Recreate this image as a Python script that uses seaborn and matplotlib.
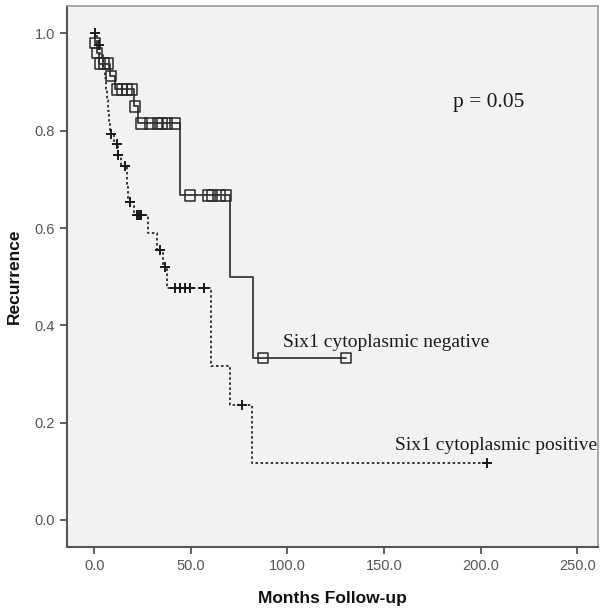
import matplotlib
matplotlib.use("Agg")
import matplotlib.pyplot as plt
import seaborn as sns
import pandas as pd

# ---- data ----
# Six1 cytoplasmic negative (solid, square censor marks)
neg_step_t = [0, 0.2, 1.2, 2.2, 8.0, 10.5, 20.5, 22.6, 44.2, 70.3, 82.0, 130.3]
neg_step_s = [1.0, 0.980, 0.960, 0.938, 0.912, 0.885, 0.850, 0.815, 0.667, 0.500, 0.333, 0.333]
neg_cens_t = [0.3, 1.5, 2.8, 5.0, 7.0, 8.6, 11.6, 14.2, 16.8, 19.4, 21.0,
              24.5, 28.8, 33.1, 34.9, 37.5, 41.8, 49.6, 59.0, 61.0, 65.0, 68.0, 87.2, 130.3]
neg_cens_s = [0.980, 0.960, 0.938, 0.938, 0.938, 0.912, 0.885, 0.885, 0.885, 0.885, 0.850,
              0.815, 0.815, 0.815, 0.815, 0.815, 0.815, 0.667, 0.667, 0.667, 0.667, 0.667, 0.333, 0.333]

# Six1 cytoplasmic positive (dashed, plus censor marks)
pos_step_t = [0, 1.5, 3.0, 4.5, 5.5, 6.2, 6.8, 7.2, 7.6, 8.0, 10.0, 12.0, 14.0, 16.8, 17.5,
              20.5, 28.0, 32.3, 35.7, 37.8, 60.5, 70.0, 81.5, 203.2]
pos_step_s = [1.0, 0.977, 0.955, 0.932, 0.909, 0.886, 0.863, 0.840, 0.817, 0.794, 0.772, 0.751,
              0.727, 0.690, 0.654, 0.626, 0.590, 0.554, 0.519, 0.476, 0.316, 0.237, 0.118, 0.118]
pos_cens_t = [0.6, 2.3, 8.4, 11.6, 12.4, 15.9, 18.3, 22.3, 23.2, 24.0, 34.0, 36.6,
              41.8, 44.4, 47.0, 49.6, 56.8, 76.3, 203.2]
pos_cens_s = [1.0, 0.977, 0.794, 0.772, 0.751, 0.727, 0.654, 0.626, 0.626, 0.626, 0.554, 0.519,
              0.476, 0.476, 0.476, 0.476, 0.476, 0.237, 0.118]

x_ticks = [0, 50, 100, 150, 200, 250]
y_ticks = [0.0, 0.2, 0.4, 0.6, 0.8, 1.0]
label_neg = "Six1 cytoplasmic negative"
label_pos = "Six1 cytoplasmic positive"
p_text = "p = 0.05"

# ---- figure ----
sns.set_style("white")
fig = plt.figure(figsize=(6.02, 6.11), dpi=100)
ax = fig.add_axes([0.1121, 0.1052, 0.8813, 0.8855])
ax.set_facecolor("#f2f2f2")

neg_df = pd.DataFrame({"t": neg_step_t, "s": neg_step_s})
pos_df = pd.DataFrame({"t": pos_step_t, "s": pos_step_s})

sns.lineplot(data=neg_df, x="t", y="s", ax=ax, estimator=None, sort=False,
             drawstyle="steps-post", color="#3a3a3a", lw=1.3)
sns.lineplot(data=pos_df, x="t", y="s", ax=ax, estimator=None, sort=False,
             drawstyle="steps-post", color="#2a2a2a", lw=1.3, linestyle=(0, (1.4, 1.4)))

sns.scatterplot(x=neg_cens_t, y=neg_cens_s, ax=ax, marker="s", s=55,
                facecolors="none", edgecolor="#2a2a2a", linewidth=1.1, zorder=3)
ax.plot(pos_cens_t, pos_cens_s, linestyle="none", marker="+", markersize=7,
        mew=1.4, color="#1a1a1a", zorder=3)

ax.text(97.7, 0.365, label_neg, family="Liberation Serif", fontsize=14,
        va="center", ha="left", color="#1a1a1a")
ax.text(155.7, 0.154, label_pos, family="Liberation Serif", fontsize=14,
        va="center", ha="left", color="#1a1a1a")
ax.text(185.5, 0.859, p_text, family="Liberation Serif", fontsize=15.5,
        va="center", ha="left", color="#1a1a1a")

ax.set_xlim(-13.9, 260.8)
ax.set_ylim(-0.055, 1.057)
ax.set_xticks(x_ticks)
ax.set_xticklabels([f"{v:.1f}" for v in x_ticks])
ax.set_yticks(y_ticks)
ax.set_yticklabels([f"{v:.1f}" for v in y_ticks])
ax.tick_params(axis="both", direction="out", length=5, width=1.2, color="#444444",
               labelsize=10.5, labelcolor="#555555", bottom=True, left=True, pad=4)
for lab in ax.get_xticklabels() + ax.get_yticklabels():
    lab.set_family("Liberation Sans")

for side in ["left", "bottom"]:
    ax.spines[side].set_color("#555555")
    ax.spines[side].set_linewidth(1.5)
for side in ["top", "right"]:
    ax.spines[side].set_color("#999999")
    ax.spines[side].set_linewidth(1.2)

ax.set_xlabel("Months Follow-up", family="Liberation Sans", fontweight="bold",
              fontsize=12.5, color="#111111", labelpad=13)
ax.set_ylabel("Recurrence", family="Liberation Sans", fontweight="bold",
              fontsize=12.5, color="#111111", labelpad=9)

fig.savefig("out.png", dpi=100)
